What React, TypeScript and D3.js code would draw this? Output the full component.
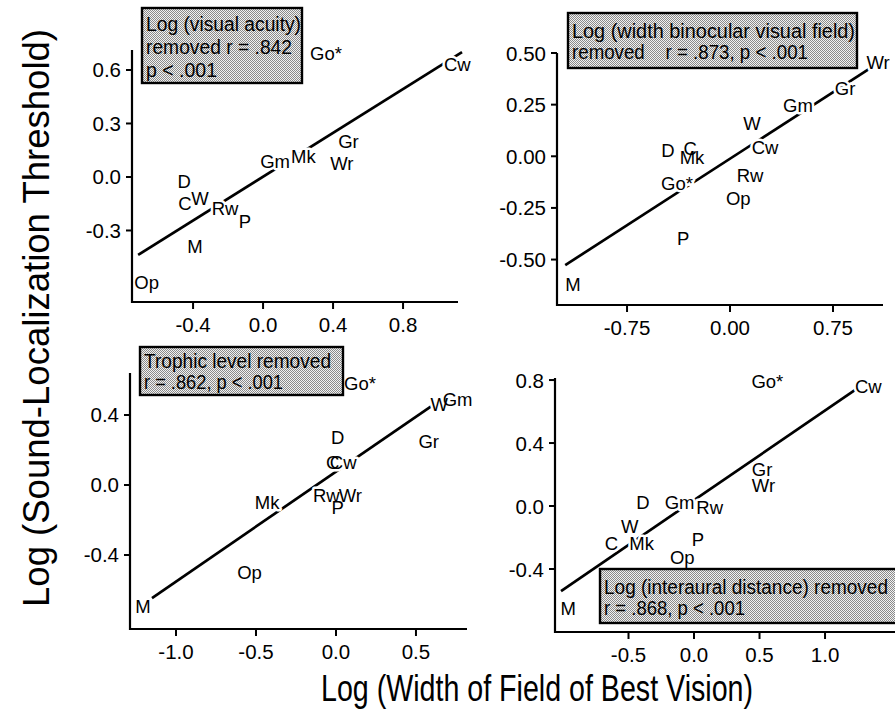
import React from "react";
import * as d3 from "d3";

// ---------- DATA ----------
const species = ["Op", "M", "C", "W", "D", "Rw", "P", "Gm", "Mk", "Wr", "Gr", "Cw", "Go*"];

// Panel 1: Log (visual acuity) removed
const acuityX = [-0.665, -0.389, -0.446, -0.36, -0.451, -0.217, -0.103, 0.069, 0.23, 0.45, 0.488, 1.11, 0.36];
const acuityY = [-0.593, -0.391, -0.151, -0.118, -0.026, -0.176, -0.251, 0.086, 0.114, 0.077, 0.198, 0.63, 0.694];
const acuityFitX = [-0.714, 1.137];
const acuityFitY = [-0.437, 0.7];

// Panel 2: Log (width binocular visual field) removed
const binocX = [0.06, -1.143, -0.291, 0.16, -0.452, 0.146, -0.342, 0.495, -0.277, 1.078, 0.838, 0.255, -0.386];
const binocY = [-0.204, -0.623, 0.039, 0.16, 0.029, -0.092, -0.396, 0.246, -0.005, 0.454, 0.329, 0.043, -0.13];
const binocFitX = [-1.2, 1.129];
const binocFitY = [-0.527, 0.473];

// Panel 3: Trophic level removed
const trophX = [-0.54, -1.206, -0.02, 0.645, 0.01, -0.06, 0.01, 0.76, -0.43, 0.09, 0.58, 0.045, 0.15];
const trophY = [-0.5, -0.697, 0.13, 0.46, 0.27, -0.06, -0.13, 0.49, -0.1, -0.06, 0.25, 0.13, 0.58];
const trophFitX = [-1.15, 0.606];
const trophFitY = [-0.646, 0.457];

// Panel 4: Log (interaural distance) removed
const auralX = [-0.09, -0.96, -0.63, -0.49, -0.39, 0.12, 0.03, -0.11, -0.4, 0.53, 0.52, 1.33, 0.56];
const auralY = [-0.33, -0.65, -0.24, -0.13, 0.02, -0.01, -0.21, 0.025, -0.24, 0.13, 0.23, 0.76, 0.79];
const auralFitX = [-1.015, 1.23];
const auralFitY = [-0.54, 0.737];

const acuityXTicks = [-0.4, 0, 0.4, 0.8];
const acuityYTicks = [-0.3, 0, 0.3, 0.6];
const binocXTicks = [-0.75, 0, 0.75];
const binocYTicks = [-0.5, -0.25, 0, 0.25, 0.5];
const trophXTicks = [-1.0, -0.5, 0, 0.5];
const trophYTicks = [-0.4, 0, 0.4];
const auralXTicks = [-0.5, 0, 0.5, 1.0];
const auralYTicks = [-0.4, 0, 0.4, 0.8];

const acuityLegend = ["Log (visual acuity)", "removed r = .842", "p < .001"];
const binocLegend = ["Log (width binocular visual field)", "removed    r = .873, p < .001"];
const trophLegend = ["Trophic level removed", "r = .862, p < .001"];
const auralLegend = ["Log (interaural distance) removed", "r = .868, p < .001"];

const yTitle = "Log (Sound-Localization Threshold)";
const xTitle = "Log (Width of Field of Best Vision)";

// ---------- LAYOUT ----------
const W = 895;
const H = 714;
const FONT = "'Liberation Sans', Arial, Helvetica, sans-serif";

type Panel = {
  xs: number[]; ys: number[]; fitX: number[]; fitY: number[];
  xTicks: number[]; yTicks: number[]; digitsX: number; digitsY: number;
  xDom: [number, number]; yDom: [number, number];
  box: { l: number; t: number; r: number; b: number };
  legend: string[];
  lg: { x: number; y: number; w: number; h: number; lines: number[]; lens: number[] };
};

const panels: Panel[] = [
  {
    xs: acuityX, ys: acuityY, fitX: acuityFitX, fitY: acuityFitY,
    xTicks: acuityXTicks, yTicks: acuityYTicks, digitsX: 1, digitsY: 1,
    xDom: [-0.749, 1.114], yDom: [-0.701, 0.712],
    box: { l: 132, t: 50, r: 458, b: 302 },
    legend: acuityLegend,
    lg: { x: 142, y: 8, w: 160, h: 75, lines: [31, 54, 77], lens: [155, 146, 71] },
  },
  {
    xs: binocX, ys: binocY, fitX: binocFitX, fitY: binocFitY,
    xTicks: binocXTicks, yTicks: binocYTicks, digitsX: 2, digitsY: 2,
    xDom: [-1.26, 1.114], yDom: [-0.72, 0.5],
    box: { l: 557, t: 53, r: 883, b: 305 },
    legend: binocLegend,
    lg: { x: 568, y: 13, w: 289, h: 55, lines: [38, 59], lens: [283, 236] },
  },
  {
    xs: trophX, ys: trophY, fitX: trophFitX, fitY: trophFitY,
    xTicks: trophXTicks, yTicks: trophYTicks, digitsX: 1, digitsY: 1,
    xDom: [-1.2875, 0.819], yDom: [-0.823, 0.64],
    box: { l: 130, t: 373, r: 467, b: 629 },
    legend: trophLegend,
    lg: { x: 140, y: 347, w: 203, h: 48, lines: [368, 389], lens: [187, 139] },
  },
  {
    xs: auralX, ys: auralY, fitX: auralFitX, fitY: auralFitY,
    xTicks: auralXTicks, yTicks: auralYTicks, digitsX: 1, digitsY: 1,
    xDom: [-1.061, 1.534], yDom: [-0.8, 0.813],
    box: { l: 555, t: 378, r: 895, b: 632 },
    legend: auralLegend,
    lg: { x: 600, y: 569, w: 305, h: 54, lines: [594, 615], lens: [284, 141] },
  },
];

function PanelView({ p }: { p: Panel }) {
  const x = d3.scaleLinear().domain(p.xDom).range([p.box.l, p.box.r]);
  const y = d3.scaleLinear().domain(p.yDom).range([p.box.b, p.box.t]);
  const line = d3.line<number>().x((d) => x(p.fitX[d])).y((d) => y(p.fitY[d]));
  const pts = species.map((s, i) => ({ s, px: x(p.xs[i]), py: y(p.ys[i]) }));
  return (
    <g>
      <path d={line([0, 1]) || ""} stroke="#000" strokeWidth={2.7} fill="none" />
      {/* halos */}
      {pts.map((d, i) => (
        <text key={"h" + i} x={d.px} y={d.py} textAnchor="middle" dominantBaseline="central"
          fontSize={18.5} fontFamily={FONT} fill="#fff" stroke="#fff" strokeWidth={5} strokeLinejoin="round">
          {d.s}
        </text>
      ))}
      {pts.map((d, i) => (
        <text key={"t" + i} x={d.px} y={d.py} textAnchor="middle" dominantBaseline="central"
          fontSize={18.5} fontFamily={FONT} fill="#000">
          {d.s}
        </text>
      ))}
      {/* axes */}
      <path d={`M${p.box.l},${p.box.t}V${p.box.b}H${p.box.r}`} stroke="#000" strokeWidth={2.2} fill="none" />
      {p.yTicks.map((t, i) => (
        <g key={"yt" + i}>
          <line x1={p.box.l - 6} x2={p.box.l} y1={y(t)} y2={y(t)} stroke="#000" strokeWidth={2} />
          <text x={p.box.l - 11} y={y(t)} textAnchor="end" dominantBaseline="central"
            fontSize={20.5} fontFamily={FONT} fill="#000">
            {t.toFixed(p.digitsY)}
          </text>
        </g>
      ))}
      {p.xTicks.map((t, i) => (
        <g key={"xt" + i}>
          <line x1={x(t)} x2={x(t)} y1={p.box.b} y2={p.box.b + 7} stroke="#000" strokeWidth={2} />
          <text x={x(t)} y={p.box.b + 22} textAnchor="middle" dominantBaseline="central"
            fontSize={20.5} fontFamily={FONT} fill="#000">
            {t.toFixed(p.digitsX)}
          </text>
        </g>
      ))}
      {/* legend */}
      <rect x={p.lg.x} y={p.lg.y} width={p.lg.w} height={p.lg.h} fill="url(#stip)" stroke="#000" strokeWidth={2.4} />
      {p.legend.map((s, i) => (
        <text key={"l" + i} x={p.lg.x + 4} y={p.lg.lines[i]} fontSize={19.5} fontFamily={FONT} fill="#000"
          textLength={p.lg.lens[i]} lengthAdjust="spacingAndGlyphs" style={{ whiteSpace: "pre" }}>
          {s}
        </text>
      ))}
    </g>
  );
}

export default function App() {
  return (
    <div style={{ position: "absolute", left: 0, top: 0, width: W, height: H, background: "#fff" }}>
      <svg width={W} height={H} style={{ display: "block" }}>
        <defs>
          <pattern id="stip" width={2} height={2} patternUnits="userSpaceOnUse">
            <rect width={2} height={2} fill="#f2f2f2" />
            <rect x={0} y={0} width={1} height={1} fill="#8a8a8a" />
            <rect x={1} y={1} width={1} height={1} fill="#8a8a8a" />
          </pattern>
        </defs>
        <rect width={W} height={H} fill="#fff" />
        {panels.map((p, i) => (
          <PanelView key={i} p={p} />
        ))}
        <text transform={`translate(49,318) rotate(-90)`} textAnchor="middle" fontSize={36} fontFamily={FONT}
          fill="#000" textLength={578} lengthAdjust="spacingAndGlyphs">
          {yTitle}
        </text>
        <text x={537} y={701} textAnchor="middle" fontSize={36} fontFamily={FONT} fill="#000"
          textLength={432} lengthAdjust="spacingAndGlyphs">
          {xTitle}
        </text>
      </svg>
    </div>
  );
}
